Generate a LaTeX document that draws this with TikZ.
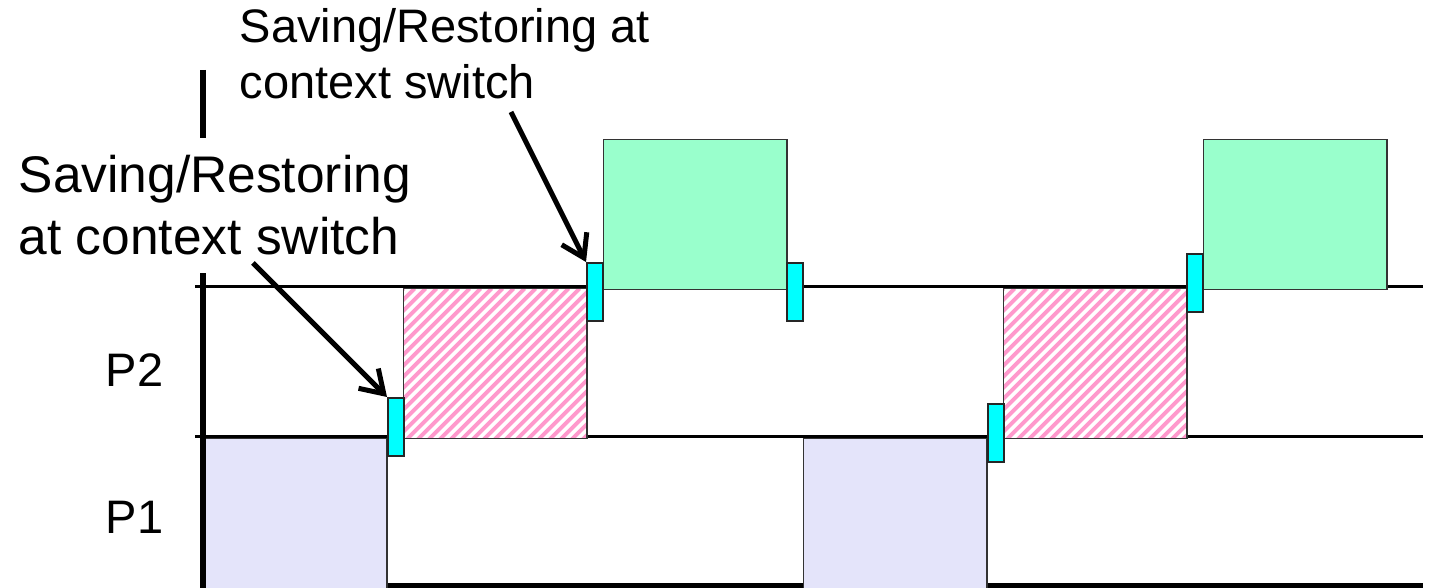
\documentclass[tikz,border=0pt]{standalone}
\usepackage{fontspec}
\setmainfont{Liberation Sans}
\usepackage{xcolor}
\usepackage{tikz}
\usetikzlibrary{arrows.meta}

\definecolor{runGreen}{HTML}{99FFCC}
\definecolor{runLavender}{HTML}{E4E4FA}
\definecolor{hatchPink}{HTML}{FF99CC}
\definecolor{swCyan}{HTML}{00FFFF}

\begin{document}
\begin{tikzpicture}[
    x=0.3pt, y=-0.3pt,
    slot/.style={rectangle, draw=black!80, line width=0.35pt, minimum width=55pt, minimum height=45pt, inner sep=0pt, anchor=north west},
    pone/.style={slot, fill=runLavender, minimum height=46pt},
    ptwo/.style={slot, fill=white, path picture={
        \foreach \k in {0,3.3,...,101}
            \draw[hatchPink, line width=1.17pt] ([xshift=\k pt]path picture bounding box.north west) -- ++(-46pt,-46pt);
    }},
    other/.style={slot, fill=runGreen},
    swbox/.style={rectangle, draw=black!85, line width=0.6pt, fill=swCyan, minimum width=4.8pt, minimum height=17.4pt, inner sep=0pt, anchor=north west},
    note/.style={align=left, inner sep=0pt, anchor=base west},
    plabel/.style={font=\fontsize{14.1pt}{17pt}\selectfont, inner sep=0pt, anchor=base west},
    callout/.style={-{Straight Barb[length=6.5pt, width=8.4pt]}, line width=1.5pt},
    timeaxis/.style={line width=1.65pt},
    lane/.style={line width=0.9pt},
]
\useasboundingbox (0,0) rectangle (1429,588);

% Lanes
\draw[lane] (195,286.5) -- (1423,286.5);
\draw[lane] (195,436.5) -- (1423,436.5);
\draw[line width=1.5pt] (203,585.5) -- (1423,585.5);

% P1 slots
\node[pone] (pone1) at (203,438) {};
\node[pone] (pone2) at (803,438) {};

% P2 slots (hatched)
\node[ptwo] (ptwo1) at (403,288) {};
\node[ptwo] (ptwo2) at (1003,288) {};

% Other slots
\node[other] (other1) at (603,139) {};
\node[other] (other2) at (1203,139) {};

% Time axis
\draw[timeaxis] (203,70) -- (203,592);

% Context switches
\node[swbox] (sw1) at (387,397) {};
\node[swbox] (sw2) at (586,262) {};
\node[swbox] (sw3) at (786,262) {};
\node[swbox] (sw4) at (987,403) {};
\node[swbox] (sw5) at (1186,253) {};

% Labels
\node[plabel] (lblP2) at (105,387) {P2};
\node[plabel] (lblP1) at (105,534) {P1};

% Notes
\node[note, font=\fontsize{14.1pt}{16.9pt}\selectfont] (noteA) at (239,99) {Saving/Restoring at\\context switch};
\node[note, font=\fontsize{15.45pt}{18.6pt}\selectfont, fill=white, inner ysep=5.25pt] (noteB) at (18,255) {Saving/Restoring\\at context switch};

% Callouts
\coordinate (fromA) at (511,112);
\coordinate (fromB) at (253,263);
\draw[callout] (fromA) -- (sw2.north west);
\draw[callout] (fromB) -- (sw1.north west);

\end{tikzpicture}
\end{document}
